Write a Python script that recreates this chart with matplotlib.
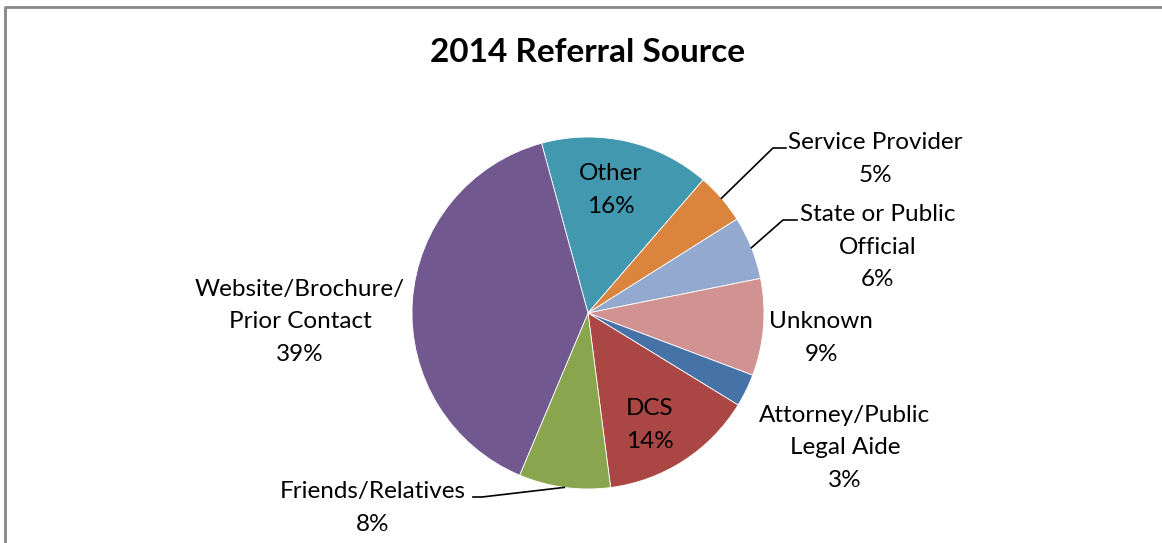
import matplotlib.pyplot as plt
import numpy as np

# data (percent of referrals), clockwise from the top-left
sources = ['Other', 'Service Provider', 'State or Public\nOfficial', 'Unknown',
           'Attorney/Public\nLegal Aide', 'DCS', 'Friends/Relatives',
           'Website/Brochure/\nPrior Contact']
shares = [15.6, 4.7, 5.8, 8.9, 3.0, 14.2, 8.4, 39.4]
colors = ['#4198AF', '#DB843D', '#93A9CF', '#D19392',
          '#4572A7', '#AA4643', '#89A54E', '#71588F']

W, H = 1162, 543
plt.rcParams['font.family'] = ['Lato', 'DejaVu Sans']

fig = plt.figure(figsize=(W / 100, H / 100), dpi=100)
ax = fig.add_axes([0, 0, 1, 1])

cx, cy, R = 588, H - 313, 176
wedges, _ = ax.pie(shares, colors=colors, startangle=105.3, counterclock=False,
                   center=(cx, cy), radius=R, frame=True,
                   wedgeprops=dict(edgecolor='white', linewidth=0.6))
ax.set_xlim(0, W)
ax.set_ylim(0, H)
ax.set_aspect('equal')
ax.axis('off')

# label layout (pixel positions of label centres, y from top)
label_pos = [(611, 190), (875, 159), (878, 247), (821, 338),
             (845, 448), (650, 425), (373, 508), (300, 322)]
# leader lines: elbow and end point (y from top), None = no leader
leaders = [None, [(773, 148), (786, 148)], [(783, 220), (797, 220)], None,
           None, None, [(482, 497), (473, 497)], None]

for w, name, v, (lx, ly), ld in zip(wedges, sources, shares, label_pos, leaders):
    ax.text(lx, H - ly, f'{name}\n{v:.0f}%', ha='center', va='center',
            fontsize=17.5, linespacing=1.7, color='black')
    if ld is not None:
        mid = np.deg2rad((w.theta1 + w.theta2) / 2)
        sx, sy = cx + R * np.cos(mid), cy + R * np.sin(mid)
        xs = [sx] + [p[0] for p in ld]
        ys = [sy] + [H - p[1] for p in ld]
        ax.plot(xs, ys, color='black', linewidth=1.2)

ax.text(588, H - 52, '2014 Referral Source', ha='center', va='center',
        fontsize=24, fontweight='bold')

# grey frame on top and left
ax.plot([5, 5, W], [0, H - 7, H - 7], color='#888888', linewidth=2, clip_on=False)

fig.savefig('out.png', dpi=100)
